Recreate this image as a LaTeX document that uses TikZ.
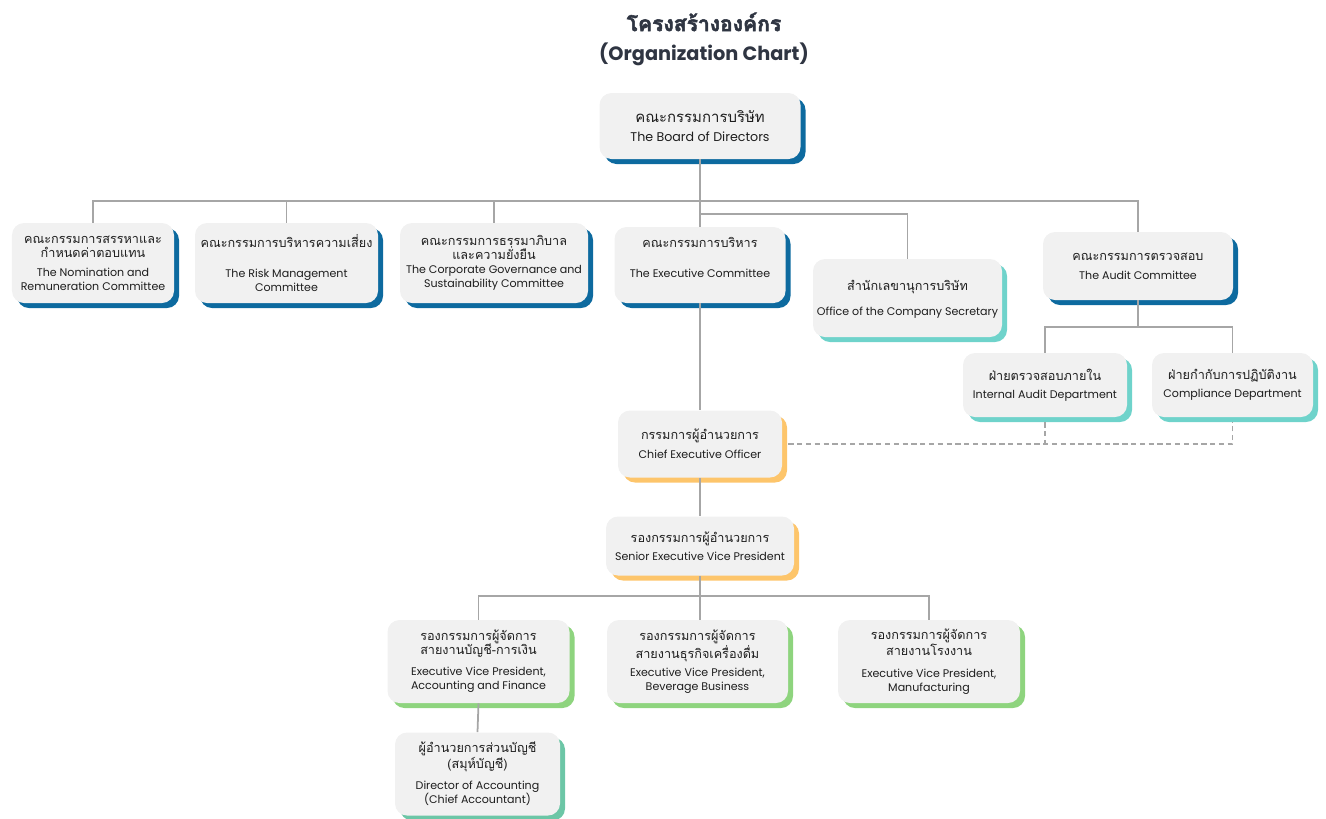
\documentclass[tikz,border=0pt]{standalone}
\usepackage{fontspec}
\setmainfont{Poppins}
\newfontfamily\thaifont[Script=Thai]{Loma}
\newfontfamily\thaititle[Script=Thai, FakeBold=2.5]{Loma}
\usepackage{tikz}
\usepackage{xcolor}
\usetikzlibrary{shapes,arrows,positioning,shadows,calc}

\definecolor{boxgray}{HTML}{F1F1F1}
\definecolor{shblue}{HTML}{0D6A9F}
\definecolor{shteal}{HTML}{6FD3CB}
\definecolor{shgold}{HTML}{FDC56B}
\definecolor{shgreen}{HTML}{8ED47E}
\definecolor{shmint}{HTML}{6CC6A6}
\definecolor{linegray}{HTML}{A6A6A6}
\definecolor{titlecol}{HTML}{2F3542}
\definecolor{txtcol}{HTML}{1E1E1E}

\newcommand{\thtext}[1]{{\thaifont\fontsize{7.2}{8.6}\selectfont #1}}

\begin{document}
\begin{tikzpicture}[
    orgbox/.style={rectangle, fill=boxgray, rounded corners=0.24cm, align=center, inner sep=0pt, text=txtcol, font=\fontsize{6.3}{8}\selectfont},
    blueunit/.style={orgbox, drop shadow={shadow xshift=0.1cm, shadow yshift=-0.1cm, fill=shblue, opacity=1}},
    tealunit/.style={orgbox, drop shadow={shadow xshift=0.1cm, shadow yshift=-0.1cm, fill=shteal, opacity=1}},
    goldunit/.style={orgbox, drop shadow={shadow xshift=0.1cm, shadow yshift=-0.1cm, fill=shgold, opacity=1}},
    greenunit/.style={orgbox, drop shadow={shadow xshift=0.1cm, shadow yshift=-0.1cm, fill=shgreen, opacity=1}},
    mintunit/.style={orgbox, drop shadow={shadow xshift=0.1cm, shadow yshift=-0.1cm, fill=shmint, opacity=1}},
    link/.style={draw=linegray, line width=1pt},
    dotlink/.style={draw=linegray, line width=1pt, dash pattern=on 3pt off 2pt}
]
\useasboundingbox (0,0) rectangle (26.52,-16.36);

% Title
\node[align=center, text=titlecol, font=\fontsize{11}{16.5}\selectfont\bfseries] (title) at (14.08,-0.78)
    {{\thaititle\fontsize{12}{14}\selectfont โครงสร้างองค์กร}\\(Organization Chart)};

% Board
\node[blueunit, minimum width=4.02cm, minimum height=1.32cm, font=\fontsize{7.2}{9}\selectfont] (board) at (14.0,-2.52)
    {{\thaifont\fontsize{8.5}{10}\selectfont คณะกรรมการบริษัท}\\[2pt]The Board of Directors};

% Committees
\node[blueunit, minimum width=3.24cm, minimum height=1.6cm, text depth=-2pt] (nomin) at (1.86,-5.26)
    {\thtext{คณะกรรมการสรรหาและ}\\\thtext{กำหนดค่าตอบแทน}\\[3pt]The Nomination and\\Remuneration Committee};
\node[blueunit, minimum width=3.66cm, minimum height=1.6cm] (risk) at (5.73,-5.26)
    {\thtext{คณะกรรมการบริหารความเสี่ยง}\\[9pt]The Risk Management\\Committee};
\node[blueunit, minimum width=3.76cm, minimum height=1.6cm] (govern) at (9.88,-5.26)
    {\thtext{คณะกรรมการธรรมาภิบาล}\\\thtext{และความยั่งยืน}\\[0pt]The Corporate Governance and\\Sustainability Committee};
\node[blueunit, minimum width=3.42cm, minimum height=1.52cm, text depth=9pt] (exec) at (14.0,-5.30)
    {\thtext{คณะกรรมการบริหาร}\\[9pt]The Executive Committee};
\node[tealunit, minimum width=3.78cm, minimum height=1.56cm, text depth=-4pt] (secretary) at (18.15,-5.96)
    {\thtext{สำนักเลขานุการบริษัท}\\[6pt]Office of the Company Secretary};
\node[blueunit, minimum width=3.8cm, minimum height=1.36cm] (audit) at (22.76,-5.32)
    {\thtext{คณะกรรมการตรวจสอบ}\\[3pt]The Audit Committee};

% Audit departments
\node[tealunit, minimum width=3.28cm, minimum height=1.28cm] (intaudit) at (20.9,-7.7)
    {\thtext{ฝ่ายตรวจสอบภายใน}\\[2pt]Internal Audit Department};
\node[tealunit, minimum width=3.22cm, minimum height=1.28cm] (compl) at (24.65,-7.7)
    {\thtext{ฝ่ายกำกับการปฏิบัติงาน}\\[2pt]Compliance Department};

% Management
\node[goldunit, minimum width=3.28cm, minimum height=1.34cm] (ceo) at (14.0,-8.88)
    {\thtext{กรรมการผู้อำนวยการ}\\[3pt]Chief Executive Officer};
\node[goldunit, minimum width=3.76cm, minimum height=1.18cm] (sevp) at (14.0,-10.92)
    {\thtext{รองกรรมการผู้อำนวยการ}\\[2pt]Senior Executive Vice President};

% Business lines
\node[greenunit, minimum width=3.64cm, minimum height=1.66cm] (evpacc) at (9.57,-13.23)
    {\thtext{รองกรรมการผู้จัดการ}\\\thtext{สายงานบัญชี-การเงิน}\\[4pt]Executive Vice President,\\Accounting and Finance};
\node[greenunit, minimum width=3.62cm, minimum height=1.66cm] (evpbev) at (13.95,-13.23)
    {\thtext{รองกรรมการผู้จัดการ}\\\thtext{สายงานธุรกิจเครื่องดื่ม}\\[2pt]Executive Vice President,\\Beverage Business};
\node[greenunit, minimum width=3.64cm, minimum height=1.66cm] (evpmfg) at (18.58,-13.23)
    {\thtext{รองกรรมการผู้จัดการ}\\\thtext{สายงานโรงงาน}\\[4pt]Executive Vice President,\\Manufacturing};
\node[mintunit, minimum width=3.3cm, minimum height=1.66cm] (doa) at (9.55,-15.48)
    {\thtext{ผู้อำนวยการส่วนบัญชี}\\\thtext{(สมุห์บัญชี)}\\[4pt]Director of Accounting\\(Chief Accountant)};

% Connectors
\coordinate (topbus) at (14.0,-4.02);
\coordinate (secbus) at (14.0,-4.28);
\coordinate (auditbus) at (22.76,-6.54);
\coordinate (evpbus) at (14.0,-11.92);

\draw[link] (board.south) -- (exec.north);
\draw[link] (board.south |- topbus) -| (nomin.north);
\draw[link] (board.south |- topbus) -| (risk.north);
\draw[link] (board.south |- topbus) -| (govern.north);
\draw[link] (board.south |- topbus) -| (audit.north);
\draw[link] (board.south |- secbus) -| (secretary.north);
\draw[link] (audit.south) -- (auditbus) -| (intaudit.north);
\draw[link] (auditbus) -| (compl.north);
\draw[link] (exec.south) -- (ceo.north);
\draw[link] (ceo.south) -- (sevp.north);
\draw[link] (sevp.south) -- (evpbus) -| (evpacc.north);
\draw[link] (evpbus) -| (evpmfg.north);
\draw[link] (evpbus) -- (evpbev.north -| evpbus);
\draw[link] (evpacc.south) -- (doa.north);
\draw[dotlink] ([xshift=0.12cm]ceo.east) -| ([yshift=-0.1cm]compl.south);
\draw[dotlink] ([yshift=-0.1cm]intaudit.south) -- (intaudit.south |- ceo.east);

\end{tikzpicture}
\end{document}
